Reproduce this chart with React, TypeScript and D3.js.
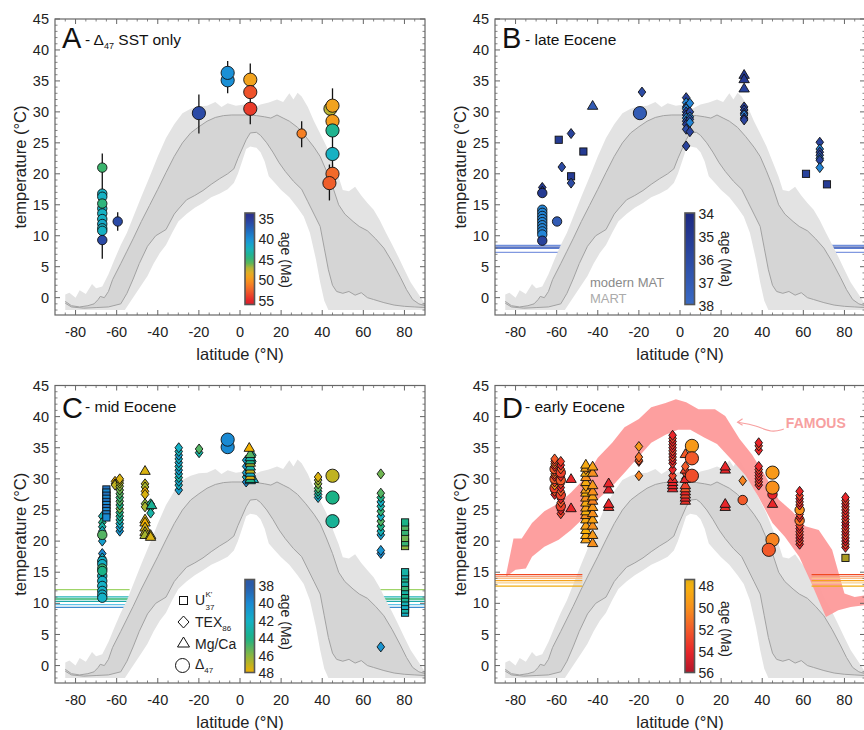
import React from 'react';
import * as d3 from 'd3';

type XY = [number, number];
type Pt = [number, number, number, string]; // latitude, temperature, age (Ma), marker
type HL = [number, string];

const FONT = "'Liberation Sans', Arial, Helvetica, sans-serif";

const latTicks = [-80, -60, -40, -20, 0, 20, 40, 60, 80];
const tempTicks = [0, 5, 10, 15, 20, 25, 30, 35, 40, 45];

// modern zonal temperature (gray band)
const modernMAT: XY[] = [
  [-85, -0.6], [-82, -1.3], [-78, -1.5], [-74, -1.3], [-71, -1.0], [-69, -0.3], [-68, 0.2], [-66, 0.0],
  [-64, 1.0], [-62, 2.9], [-58, 5.5], [-55, 7.5], [-52, 9.5], [-48, 12.3], [-44, 14.9], [-40, 17.5],
  [-36, 20.2], [-32, 22.8], [-28, 25.0], [-24, 26.6], [-20, 27.6], [-16, 28.5], [-12, 29.1], [-8, 29.4],
  [-4, 29.5], [0, 29.5], [4, 29.5], [8, 29.4], [12, 29.2], [15, 29.0], [18, 29.5], [21, 29.0], [24, 28.5],
  [28, 27.5], [32, 26.0], [36, 24.3], [39, 22.8], [42, 20.5], [45, 18.0], [48, 15.0], [51, 13.5], [55, 12.3],
  [58, 11.5], [62, 10.8], [66, 9.5], [70, 8.0], [74, 5.8], [78, 3.3], [81, 1.3], [84, -0.3], [87, -1.0], [90, -1.3],
];
const modernMART: XY[] = [
  [-85, -0.9], [-82, -1.5], [-76, -1.7], [-70, -1.6], [-64, -1.5], [-58, -1.0], [-55, 0.7], [-52, 3.0],
  [-49, 5.5], [-45, 8.3], [-41, 10.0], [-36, 11.0], [-32, 13.5], [-30, 14.3], [-26, 15.8], [-22, 16.5],
  [-18, 17.3], [-14, 18.3], [-10, 19.2], [-6, 20.0], [-3, 20.8], [-1, 22.5], [1, 24.0], [3, 25.5], [5, 26.6],
  [8, 26.7], [10, 26.2], [13, 25.0], [16, 23.5], [19, 21.8], [22, 20.4], [26, 18.8], [30, 17.5], [33, 15.5],
  [36, 13.5], [39, 11.5], [41, 8.0], [43, 4.5], [45, 2.0], [47, 1.0], [50, 0.7], [53, 1.0], [56, 0.4],
  [59, 0.8], [62, 0.0], [65, -0.3], [70, -0.8], [75, -1.2], [80, -1.4], [85, -1.5], [90, -1.6],
];
const envUpper: XY[] = [
  [-85, 0.5], [-83, 0.8], [-80, 0.0], [-78, 1.2], [-75, 0.6], [-72, 2.2], [-70, 1.5], [-67, 1.8], [-64, 3.8],
  [-61, 6.2], [-58, 8.5], [-55, 10.5], [-52, 13.0], [-48, 16.3], [-44, 19.5], [-40, 22.8], [-36, 25.8],
  [-32, 28.0], [-28, 29.8], [-24, 30.5], [-20, 30.9], [-16, 31.0], [-12, 31.6], [-9, 30.8], [-6, 31.4],
  [-2, 31.0], [2, 31.2], [6, 30.5], [10, 31.2], [14, 31.5], [18, 32.0], [21, 31.6], [24, 33.0], [26, 32.0],
  [28, 33.1], [30, 32.5], [33, 30.8], [36, 28.5], [39, 26.5], [42, 24.5], [45, 22.0], [48, 19.5], [50, 17.4],
  [53, 17.2], [56, 17.9], [59, 16.5], [62, 15.3], [65, 14.2], [68, 12.5], [71, 10.5], [74, 8.6], [77, 6.6],
  [80, 4.5], [83, 2.5], [86, 1.0], [88, 0.0], [90, -1.0],
];
const envLower: XY[] = [
  [-85, -2.0], [-56, -2.0], [-54, -1.0], [-51, 0.5], [-48, 2.0], [-45, 3.5], [-42, 5.5], [-39, 7.2],
  [-36, 8.5], [-33, 10.5], [-30, 12.3], [-26, 13.5], [-22, 14.5], [-18, 15.3], [-14, 16.2], [-10, 16.8],
  [-6, 17.5], [-3, 18.5], [-1, 20.0], [1, 22.0], [3, 24.0], [5, 24.4], [8, 24.2], [10, 23.5], [12, 22.0],
  [14, 19.6], [17, 18.5], [20, 17.4], [24, 16.2], [28, 14.5], [31, 13.1], [34, 10.5], [37, 6.1], [39, 2.5],
  [41, -0.5], [43, -2.0], [90, -2.0],
];

// FAMOUS model band (panel D)
const famousUpper: XY[] = [
  [-84.5, 14.8], [-81, 20.4], [-77, 20.4], [-72, 22.9], [-66, 24.8], [-59, 26.1], [-53, 27.8], [-46, 30.2],
  [-40, 33.4], [-33, 35.8], [-27, 38.3], [-20, 39.6], [-14, 41.5], [-7, 42.2], [-2, 42.8], [3, 42.3],
  [9, 41.2], [17, 41.2], [22, 40.1], [29, 36.4], [35, 33.9], [41.5, 30.5], [48, 26.7], [54.5, 24.8],
  [61, 22.4], [67.5, 21.8], [74, 18.6], [80, 11.6], [85, 11.0], [90, 11.3],
];
const famousLower: XY[] = [
  [-84.5, 14.3], [-80, 15.4], [-75, 15.6], [-72, 17.5], [-66, 19.1], [-59, 20.2], [-53, 21.8], [-46, 24.0],
  [-40, 26.7], [-33, 28.8], [-27, 31.0], [-20, 33.6], [-14, 35.8], [-7, 37.1], [-1, 37.9], [5, 37.9],
  [12, 36.6], [18, 35.6], [25, 33.1], [32, 30.5], [38, 27.2], [45, 22.9], [51, 20.7], [58, 17.5],
  [64, 13.2], [71, 7.8], [77, 8.9], [83, 9.4], [90, 9.7],
];
const famousArrow: XY[] = [[50.5, 38.0], [44.5, 37.4], [37, 38.6], [28, 39.1]];

// Panel A: clumped isotope SSTs
const aPoints: Pt[] = [
  [-67, 21.0, 45, 'c'], [-67, 16.8, 42, 'c'], [-67, 16.3, 42, 'c'], [-67, 14.4, 42, 'c'], [-67, 13.6, 42, 'c'],
  [-67, 12.7, 42, 'c'], [-67, 11.9, 41.5, 'c'], [-67, 11.2, 42, 'c'], [-67, 10.8, 42, 'c'], [-67, 15.2, 44.5, 'c'],
  [-67, 9.3, 36, 'c'], [-59.5, 12.3, 36, 'c'], [-20, 29.8, 36, 'C'], [-6, 35.1, 40, 'C'], [-6, 36.3, 40, 'C'],
  [5, 35.2, 49, 'C'], [5, 33.2, 53, 'C'], [5, 30.5, 54, 'C'], [30, 26.5, 51, 'c'],
  [44, 30.5, 47, 'C'], [45, 31.0, 49, 'C'], [45, 28.5, 49.5, 'C'], [45, 27.0, 43.8, 'C'], [45, 23.2, 42, 'C'],
  [45, 20.0, 52, 'C'], [43.5, 18.5, 52.5, 'C'],
];
const aErrors: XY[][] = [
  [[-67, 6.3], [-67, 23.3]], [[-59.5, 10.8], [-59.5, 13.8]], [[-20, 26.5], [-20, 32.8]],
  [[-6, 33.0], [-6, 38.2]], [[5, 28.0], [5, 37.8]], [[30, 24.3], [30, 28.5]],
  [[43.5, 15.7], [43.5, 21.5]], [[45, 17.8], [45, 33.8]],
];

// Panel B: late Eocene
const bPoints: Pt[] = [
  [-67, 17.8, 35, 'd'], [-67, 17.2, 35, 'd'], [-67, 14.2, 39.5, 'c'], [-67, 13.7, 39.5, 'c'], [-67, 13.2, 39.5, 'c'],
  [-67, 12.7, 39.5, 'c'], [-67, 12.2, 39.5, 'c'], [-67, 11.7, 39.5, 'c'], [-67, 11.2, 39.5, 'c'], [-67, 10.7, 39.5, 'c'],
  [-67, 10.2, 39.5, 'c'], [-67, 16.9, 35, 'c'], [-67, 9.2, 35.5, 'c'], [-59.8, 12.3, 37, 'c'],
  [-57.5, 21.1, 36, 'd'], [-59, 25.5, 35, 's'], [-53, 26.5, 35.5, 'd'], [-53, 19.6, 35, 's'], [-53, 18.5, 36, 'd'],
  [-47, 23.6, 35, 's'], [-42.5, 31.0, 37, 't'], [-19.5, 29.8, 37, 'C'], [-18.5, 33.2, 36, 'd'],
  [3, 32.3, 35.5, 'd'], [3, 31.5, 39.5, 'd'], [3, 30.8, 36, 'd'], [3, 30.5, 39.5, 'd'], [3, 30.0, 35.5, 'd'],
  [3, 29.5, 36, 'd'], [3, 29.0, 39.5, 'd'], [3, 28.5, 36, 'd'], [3, 28.0, 35, 'd'], [3, 27.2, 36, 'd'], [3, 24.5, 35.5, 'd'],
  [4.8, 31.4, 39.5, 'd'], [4.8, 30.0, 36, 'd'], [4.8, 29.2, 39.5, 'd'], [4.8, 28.8, 36, 'd'], [4.8, 28.3, 39.5, 'd'],
  [4.8, 26.8, 35.5, 'd'],
  [31.2, 36.0, 35, 't'], [31.2, 35.3, 35, 't'], [31.2, 33.8, 35.5, 't'], [31.2, 30.8, 35, 'd'], [31.2, 30.3, 35.5, 'd'],
  [31.2, 29.8, 35, 'd'], [31.2, 29.5, 39, 'd'], [31.2, 29.0, 35, 'd'], [31.2, 28.7, 35.5, 'd'],
  [61.3, 20.0, 35.5, 's'],
  [68, 25.1, 35.5, 'd'], [68, 24.0, 39.5, 'd'], [68, 23.5, 35.5, 'd'], [68, 23.0, 36, 'd'], [68, 22.5, 39.5, 'd'],
  [68, 22.2, 35.5, 'd'], [68, 21.0, 39.5, 'd'], [71.5, 18.3, 35, 's'],
];
const bLines: HL[] = [[8.45, '#6f8fdc'], [8.15, '#2a48a8'], [7.95, '#5a7bd0'], [7.3, '#8199e0']];
const bLineSpans: XY[] = [[-90, -56.5], [73.5, 90]];

// Panel C: mid Eocene
const cPoints: Pt[] = [
  [-67, 24.0, 42.5, 'd'], [-67, 23.0, 44, 'd'], [-67, 22.3, 43, 'd'], [-67, 21.6, 42, 'd'], [-67, 20.0, 41, 'd'],
  [-67, 18.0, 40, 'd'], [-67, 17.3, 42, 'd'],
  [-67, 21.0, 45, 'c'], [-67, 16.8, 42, 'c'], [-67, 16.3, 42, 'c'], [-67, 14.4, 42, 'c'], [-67, 13.6, 42, 'c'],
  [-67, 12.8, 42, 'c'], [-67, 12.0, 42, 'c'], [-67, 11.4, 42, 'c'], [-67, 10.9, 42, 'c'], [-67, 15.6, 44.5, 'c'],
  [-67, 15.2, 44, 'c'],
  [-65, 28.3, 39, 's'], [-65, 27.8, 40, 's'], [-65, 27.3, 39, 's'], [-65, 26.8, 40, 's'], [-65, 26.3, 39, 's'],
  [-65, 25.8, 40, 's'], [-65, 25.3, 39, 's'], [-65, 24.8, 40, 's'], [-65, 24.3, 39.5, 's'], [-65, 23.8, 40, 's'],
  [-60.8, 29.6, 48, 'd'], [-60.8, 29.2, 47.5, 'd'], [-60.8, 29.0, 47, 'd'],
  [-58.5, 21.6, 40.5, 'd'], [-58.5, 22.2, 41, 'd'], [-58.5, 22.8, 42, 'd'], [-58.5, 23.4, 43, 'd'], [-58.5, 24.0, 43.5, 'd'],
  [-58.5, 24.6, 44, 'd'], [-58.5, 25.2, 45.5, 'd'], [-58.5, 25.8, 44, 'd'], [-58.5, 26.4, 45, 'd'], [-58.5, 27.0, 44.5, 'd'],
  [-58.5, 27.6, 45, 'd'], [-58.5, 28.2, 45.5, 'd'], [-58.5, 28.8, 46, 'd'], [-58.5, 29.3, 46.5, 'd'], [-58.5, 29.7, 47, 'd'],
  [-58.5, 30.0, 47.5, 'd'],
  [-46.2, 31.3, 47.5, 't'], [-46.2, 29.2, 47, 'd'], [-46.2, 28.7, 46.5, 'd'], [-46.2, 28.0, 48, 'd'], [-46.2, 27.5, 47.5, 'd'],
  [-46.2, 26.0, 46, 'd'], [-46.2, 25.5, 46.5, 'd'], [-46.2, 23.5, 47.5, 't'], [-46.2, 23.0, 48, 't'], [-46.2, 22.2, 47.5, 't'],
  [-46.2, 21.5, 47, 't'], [-46.2, 21.0, 46.5, 't'],
  [-43.5, 26.0, 44, 'd'], [-43.5, 25.3, 44.5, 'd'], [-43.5, 24.5, 43, 'd'], [-43, 25.8, 43.5, 't'],
  [-43.5, 21.0, 47, 't'], [-43.5, 20.7, 47.5, 't'],
  [-29.8, 28.2, 41, 'd'], [-29.8, 29.0, 42, 'd'], [-29.8, 29.6, 41.5, 'd'], [-29.8, 30.2, 43, 'd'], [-29.8, 30.8, 42, 'd'],
  [-29.8, 31.4, 41, 'd'], [-29.8, 32.0, 42.5, 'd'], [-29.8, 32.6, 41.5, 'd'], [-29.8, 33.2, 42, 'd'], [-29.8, 33.8, 41, 'd'],
  [-29.8, 34.4, 42.5, 'd'], [-29.8, 35.0, 42, 'd'],
  [-19.9, 34.2, 43, 'd'], [-19.9, 34.8, 45, 'd'],
  [-6, 35.1, 40, 'C'], [-6, 36.3, 40, 'C'],
  [3, 29.5, 40, 'd'], [3, 30.3, 42, 'd'], [3, 31.0, 41, 'd'], [3, 32.0, 40.5, 'd'], [3, 33.0, 41, 'd'],
  [6, 33.8, 43, 'd'], [6, 32.8, 42, 'd'],
  [6.5, 30.0, 42, 't'], [5, 29.8, 42, 't'], [5, 30.0, 44, 't'], [5, 30.5, 47.5, 't'], [5, 31.0, 42, 't'], [5, 31.5, 47, 't'],
  [5, 32.0, 43, 't'], [5, 32.6, 46.5, 't'], [5, 33.0, 44, 't'], [5, 33.5, 43, 't'], [5, 34.0, 45, 't'], [4.5, 35.0, 48, 't'],
  [38, 27.0, 41.5, 'd'], [38, 27.5, 43, 'd'], [38, 28.0, 44, 'd'], [38, 28.5, 45, 'd'], [38, 29.2, 46, 'd'],
  [38, 29.8, 46.5, 'd'], [38, 30.3, 47.5, 'd'],
  [45, 30.5, 47, 'C'], [45, 27.0, 44, 'C'], [45, 23.2, 43.5, 'C'],
  [68.5, 3.0, 40.5, 'd'], [68.5, 18.0, 40, 'd'], [68.5, 18.5, 40.5, 'd'], [68.5, 21.0, 41, 'd'], [68.5, 21.6, 42.5, 'd'],
  [68.5, 22.4, 44, 'd'], [68.5, 23.2, 45, 'd'], [68.5, 24.0, 42, 'd'], [68.5, 24.8, 44.5, 'd'], [68.5, 25.6, 43, 'd'],
  [68.5, 26.3, 42, 'd'], [68.5, 27.0, 44, 'd'], [68.5, 27.7, 45, 'd'], [68.5, 30.8, 45.5, 'd'],
  [80.3, 8.5, 42, 's'], [80.3, 9.0, 43, 's'], [80.3, 9.6, 42, 's'], [80.3, 10.2, 42.5, 's'], [80.3, 10.8, 43.5, 's'],
  [80.3, 11.4, 44, 's'], [80.3, 12.0, 43, 's'], [80.3, 12.6, 44.5, 's'], [80.3, 13.3, 43, 's'], [80.3, 14.0, 44, 's'],
  [80.3, 14.5, 42.5, 's'], [80.3, 15.0, 43, 's'],
  [80.3, 19.2, 46, 's'], [80.3, 19.8, 44.5, 's'], [80.3, 20.5, 45.5, 's'], [80.3, 21.5, 44.5, 's'], [80.3, 22.3, 45, 's'],
  [80.3, 23.0, 44, 's'],
];
const cLines: HL[] = [[12.2, '#9fd468'], [11.05, '#22b3b8'], [10.7, '#2fb46e'], [10.3, '#1ca8a8'], [9.8, '#62c3e8'], [9.35, '#3d8ccf']];
const cLineSpans: XY[] = [[-90, -53.7], [68, 90]];

// Panel D: early Eocene
const dPoints: Pt[] = [
  [-61, 27.5, 54, 'd'], [-61, 28.0, 52, 'd'], [-61, 28.5, 53, 'c'], [-61, 29.0, 50, 'd'], [-61, 29.5, 53, 'd'],
  [-61, 30.0, 52, 'c'], [-61, 30.4, 54, 'd'], [-61, 30.8, 51, 'd'], [-61, 31.2, 53, 'd'], [-61, 31.6, 52, 'c'],
  [-61, 32.0, 54, 'd'], [-61, 32.4, 51, 'd'], [-61, 32.8, 53, 'd'], [-61, 33.2, 52, 'd'],
  [-58, 24.4, 53, 'd'], [-58, 25.0, 54, 'd'], [-58, 25.6, 53, 'c'], [-58, 26.2, 52, 'd'], [-58, 26.8, 54, 'd'],
  [-58, 27.4, 53, 'c'], [-58, 28.0, 52, 'd'], [-58, 28.6, 54, 'd'], [-58, 29.2, 53, 'd'], [-58, 29.8, 52, 'c'],
  [-58, 30.4, 54, 'd'], [-58, 31.0, 53, 'c'], [-58, 31.6, 52, 'd'], [-58, 32.2, 54, 'd'], [-58, 32.8, 53, 'd'],
  [-53, 30.0, 54, 't'], [-53, 25.3, 54, 't'],
  [-45.8, 20.3, 49, 't'], [-45.8, 21.0, 48.5, 't'], [-45.8, 21.8, 48, 't'], [-45.8, 22.5, 49, 't'], [-45.8, 23.5, 48.5, 't'],
  [-45.8, 24.2, 50, 't'], [-45.8, 24.8, 48, 't'], [-45.8, 25.4, 49, 't'], [-45.8, 26.2, 48.5, 't'], [-45.8, 27.0, 50, 't'],
  [-45.8, 27.8, 48, 't'], [-45.8, 28.3, 49, 't'], [-45.8, 28.8, 49, 'd'], [-45.8, 29.5, 48.5, 't'], [-45.8, 30.3, 50, 't'],
  [-45.8, 31.0, 48, 't'], [-45.8, 31.5, 50, 'd'], [-45.8, 31.8, 49, 't'], [-45.8, 32.3, 48.5, 't'],
  [-42.5, 19.7, 50, 't'], [-42.5, 21.0, 49.5, 't'], [-42.5, 22.5, 50, 't'], [-42.5, 23.5, 49, 't'], [-42.5, 24.5, 50, 't'],
  [-42.5, 25.5, 49.5, 't'], [-42.5, 26.5, 50.5, 't'], [-42.5, 27.2, 49, 't'], [-42.5, 28.0, 50, 't'], [-42.5, 29.0, 49.5, 't'],
  [-42.5, 31.0, 50, 't'], [-42.5, 32.0, 49, 't'],
  [-34.7, 25.5, 53.5, 't'], [-34.7, 26.0, 54, 't'], [-34.7, 28.3, 54.5, 't'], [-34.7, 29.3, 54, 't'],
  [-20, 30.5, 50.5, 'd'], [-20, 32.8, 53, 'd'], [-20, 33.0, 52, 'd'], [-20, 33.5, 51, 'd'], [-20, 35.2, 49.5, 'd'],
  [-3.6, 28.5, 54, 't'], [-3.6, 29.0, 54, 't'], [-3.6, 29.5, 54, 't'], [-3.6, 30.0, 54, 't'],
  [-3.6, 30.5, 53, 'd'], [-3.6, 31.5, 54, 'd'], [-3.6, 32.5, 53.5, 'd'], [-3.6, 33.0, 54, 'd'], [-3.6, 33.5, 53, 'd'],
  [-3.6, 34.0, 54.5, 'd'], [-3.6, 34.5, 53, 'd'], [-3.6, 35.0, 54, 'd'], [-3.6, 35.5, 53.5, 'd'], [-3.6, 36.0, 54, 'd'],
  [-3.6, 36.5, 53, 'd'], [-3.6, 37.0, 54, 'd'],
  [2.6, 26.5, 53.5, 't'], [2.6, 27.0, 54, 't'], [2.6, 27.5, 53, 't'], [2.6, 28.0, 54, 't'], [2.6, 28.5, 52, 't'],
  [2.6, 29.0, 53, 't'], [2.6, 30.0, 51, 'd'], [2.6, 30.0, 54, 't'], [2.6, 31.0, 53, 'd'], [2.6, 31.5, 53, 't'],
  [2.6, 32.0, 52, 'd'], [2.6, 34.0, 52, 't'],
  [5.8, 35.3, 49.5, 'C'], [5.8, 33.3, 52, 'C'], [5.8, 30.5, 52.5, 'C'],
  [22, 25.5, 53.5, 't'], [22, 26.0, 54, 't'], [22, 31.5, 54, 't'], [22, 32.0, 54, 't'],
  [30.5, 29.7, 50.5, 'd'], [30.5, 26.6, 52, 'c'],
  [38.3, 29.0, 54, 'd'], [38.3, 29.5, 53, 'd'], [38.3, 30.0, 54, 'd'], [38.3, 30.5, 53.5, 'd'], [38.3, 31.0, 54, 'd'],
  [38.3, 31.5, 53, 'd'], [38.3, 32.0, 54, 'd'], [38.3, 34.6, 54, 'd'], [38.3, 35.3, 53, 'd'], [38.3, 35.8, 54, 'd'],
  [45, 26.0, 54, 't'], [45, 27.5, 54, 'c'], [45, 31.0, 49.5, 'C'], [45, 28.6, 50, 'C'], [45, 20.2, 50.5, 'C'],
  [43.2, 18.6, 52, 'C'],
  [58.2, 19.5, 54, 'd'], [58.2, 20.0, 53, 'd'], [58.2, 20.5, 55, 'd'], [58.2, 21.0, 54, 'd'], [58.2, 21.5, 53, 'd'],
  [58.2, 22.0, 54.5, 'd'], [58.2, 22.5, 53, 'd'], [58.2, 23.3, 51, 'c'], [58.2, 23.8, 54, 'd'], [58.2, 24.3, 53, 'd'],
  [58.2, 25.0, 50, 'c'], [58.2, 25.8, 54, 'd'], [58.2, 26.3, 53, 'd'], [58.2, 26.8, 54.5, 'd'], [58.2, 27.3, 53, 'd'],
  [58.2, 28.0, 54, 'd'],
  [80.5, 19.0, 54, 'd'], [80.5, 19.5, 53, 'd'], [80.5, 20.0, 55, 'd'], [80.5, 20.5, 54, 'd'], [80.5, 21.0, 53, 'd'],
  [80.5, 21.5, 54.5, 'd'], [80.5, 22.0, 53, 'd'], [80.5, 22.5, 54, 'd'], [80.5, 23.0, 55, 'd'], [80.5, 23.5, 53, 'd'],
  [80.5, 24.0, 54, 'd'], [80.5, 24.5, 53.5, 'd'], [80.5, 25.0, 54, 'd'], [80.5, 25.5, 53, 'd'], [80.5, 26.0, 54.5, 'd'],
  [80.5, 26.5, 53, 'd'], [80.5, 27.0, 54, 'd'], [80.5, 17.3, 46, 's'],
];
const dLines: HL[] = [[14.6, '#f04a22'], [14.3, '#f7a07a'], [14.0, '#fbc08a'], [13.65, '#f5a21c'], [13.3, '#fad08a'], [12.75, '#efac10']];
const dLineSpans: XY[] = [[-90, -47.5], [64, 90]];

// colour bars: tick labels
const aAges = [35, 40, 45, 50, 55];
const bAges = [34, 35, 36, 37, 38];
const cAges = [38, 40, 42, 44, 46, 48];
const dAges = [48, 50, 52, 54, 56];

const aColor = d3.scaleLinear<string>()
  .domain([34, 36, 38, 40, 42, 44, 45.5, 47, 48.5, 50, 52, 55, 56])
  .range(['#2b2f8c', '#2b4aa6', '#1f6dbf', '#1b90d6', '#17b1c3', '#22b48a', '#48b660', '#b8b434', '#f0ab1f', '#f7941d', '#f26a2a', '#e5232a', '#d81e2a'])
  .clamp(true);
const bColor = d3.scaleLinear<string>().domain([34, 38, 40]).range(['#1e2a82', '#3a6cc6', '#1d8ddb']).clamp(true);
const cColor = d3.scaleLinear<string>()
  .domain([38, 40, 42, 44, 46, 48])
  .range(['#2b5aa8', '#1a8ad3', '#14b1c6', '#1bb286', '#8cb63f', '#f4b000']).clamp(true);
const dColor = d3.scaleLinear<string>()
  .domain([46, 48, 50, 52, 54, 56])
  .range(['#a89a22', '#f6b20e', '#f7901d', '#f25a2a', '#e8262a', '#b0152a']).clamp(true);

interface Box { l: number; r: number; t: number; b: number; }

function Marker({ kind, cx, cy, fill }: { kind: string; cx: number; cy: number; fill: string }) {
  const common = { fill, stroke: '#111', strokeWidth: 0.9 };
  if (kind === 'c') return <circle cx={cx} cy={cy} r={4.7} {...common} />;
  if (kind === 'C') return <circle cx={cx} cy={cy} r={6.6} {...common} />;
  if (kind === 'd') return <path d={`M${cx},${cy - 5}L${cx + 3.8},${cy}L${cx},${cy + 5}L${cx - 3.8},${cy}Z`} {...common} />;
  if (kind === 's') return <rect x={cx - 3.6} y={cy - 3.6} width={7.2} height={7.2} {...common} />;
  return <path d={`M${cx},${cy - 5.2}L${cx + 5.2},${cy + 3.6}L${cx - 5.2},${cy + 3.6}Z`} {...common} />;
}

interface PanelProps {
  id: string;
  box: Box;
  letter: string;
  letterDy: number;
  title: React.ReactNode;
  points: Pt[];
  color: d3.ScaleLinear<string, string>;
  ages: number[];
  labelTop: number;
  labelBot: number;
  ageTitleY: number;
  errors?: XY[][];
  lines?: HL[];
  spans?: XY[];
  famous?: boolean;
  modernLabel?: boolean;
  legend?: boolean;
}

function Panel(p: PanelProps) {
  const { box } = p;
  const x = d3.scaleLinear().domain([-90, 90]).range([box.l, box.r]);
  const y = d3.scaleLinear().domain([-2.8, 45]).range([box.b, box.t]);
  const line = d3.line<XY>().x((d) => x(d[0])).y((d) => y(d[1]));
  const poly = (a: XY[], b: XY[]) => (line([...a, ...b.slice().reverse()]) || '') + 'Z';
  const clipId = `clip-${p.id}`;
  const gradId = `grad-${p.id}`;

  // colour bar
  const barX = box.l + 190;
  const barW = 9.5;
  const barTop = box.t + 194;
  const barBot = box.b - 10.5;
  const ageY = d3.scaleLinear().domain([p.ages[0], p.ages[p.ages.length - 1]]).range([box.t + p.labelTop, box.b - p.labelBot]);
  const stops = d3.range(0, 1.0001, 0.05).map((f) => {
    const yy = barTop + f * (barBot - barTop);
    return { off: f, col: p.color(ageY.invert(yy)) };
  });

  const minorT = d3.range(-2, 46, 1).filter((v) => v % 5 !== 0);
  const minorL = d3.range(-85, 90, 5).filter((v) => v % 20 !== 0);
  const tc = '#666';

  const hlines = (p.lines || []).flatMap((l, i) =>
    (p.spans || []).map((s, j) => (
      <line key={`hl${i}-${j}`} x1={x(s[0])} x2={x(s[1])} y1={y(l[0])} y2={y(l[0])} stroke={l[1]} strokeWidth={1.3} />
    ))
  );

  return (
    <g>
      <defs>
        <clipPath id={clipId}>
          <rect x={box.l} y={box.t} width={box.r - box.l} height={box.b - box.t} />
        </clipPath>
        <linearGradient id={gradId} x1="0" y1="0" x2="0" y2="1">
          {stops.map((s, i) => (
            <stop key={i} offset={s.off} stopColor={s.col} />
          ))}
        </linearGradient>
      </defs>
      <g clipPath={`url(#${clipId})`}>
        {!p.famous && hlines}
        <path d={poly(envUpper, envLower)} fill="#e3e3e3" />
        <path d={poly(modernMAT, modernMART)} fill="#d5d5d5" />
        <path d={line(modernMAT) || ''} fill="none" stroke="#a2a2a2" strokeWidth={1} />
        <path d={line(modernMART) || ''} fill="none" stroke="#a2a2a2" strokeWidth={1} />
        {p.famous && <path d={poly(famousUpper, famousLower)} fill="#fd9a9a" opacity={0.95} />}
        {p.famous && hlines}
        {(p.errors || []).map((e, i) => (
          <path key={`e${i}`} d={line(e) || ''} stroke="#111" strokeWidth={1.3} />
        ))}
        {p.points.map((d, i) => (
          <Marker key={`p${i}`} kind={d[3]} cx={x(d[0])} cy={y(d[1])} fill={p.color(d[2])} />
        ))}
      </g>

      {/* frame and ticks */}
      <rect x={box.l} y={box.t} width={box.r - box.l} height={box.b - box.t} fill="none" stroke={tc} strokeWidth={1.2} />
      {tempTicks.map((v) => (
        <g key={`yt${v}`}>
          <line x1={box.l} x2={box.l + 5} y1={y(v)} y2={y(v)} stroke={tc} />
          <line x1={box.r} x2={box.r - 5} y1={y(v)} y2={y(v)} stroke={tc} />
          <text x={box.l - 6} y={y(v)} dy="0.35em" textAnchor="end" fontSize={14.5} fill="#222">{v}</text>
        </g>
      ))}
      {minorT.map((v) => (
        <g key={`ym${v}`}>
          <line x1={box.l} x2={box.l + 2.5} y1={y(v)} y2={y(v)} stroke={tc} strokeWidth={0.8} />
          <line x1={box.r} x2={box.r - 2.5} y1={y(v)} y2={y(v)} stroke={tc} strokeWidth={0.8} />
        </g>
      ))}
      {latTicks.map((v) => (
        <g key={`xt${v}`}>
          <line x1={x(v)} x2={x(v)} y1={box.b} y2={box.b - 5} stroke={tc} />
          <line x1={x(v)} x2={x(v)} y1={box.t} y2={box.t + 5} stroke={tc} />
          <text x={x(v)} y={box.b + 22} textAnchor="middle" fontSize={14.5} fill="#222">{v}</text>
        </g>
      ))}
      {minorL.map((v) => (
        <g key={`xm${v}`}>
          <line x1={x(v)} x2={x(v)} y1={box.b} y2={box.b - 2.5} stroke={tc} strokeWidth={0.8} />
          <line x1={x(v)} x2={x(v)} y1={box.t} y2={box.t + 2.5} stroke={tc} strokeWidth={0.8} />
        </g>
      ))}
      <text x={(box.l + box.r) / 2} y={box.b + 45} textAnchor="middle" fontSize={16.5} fill="#222">latitude (°N)</text>
      <text transform={`translate(${box.l - 29},${(box.t + box.b) / 2}) rotate(-90)`} textAnchor="middle" fontSize={16.5} fill="#222">temperature (°C)</text>

      {/* title */}
      <text x={box.l + 7} y={box.t + p.letterDy} fontSize={29} fill="#111">{p.letter}</text>
      {p.title}

      {/* colour bar */}
      <rect x={barX} y={barTop} width={barW} height={barBot - barTop} fill={`url(#${gradId})`} stroke="#555" strokeWidth={1.6} />
      {p.ages.map((a) => (
        <text key={`ca${a}`} x={box.l + 203.5} y={ageY(a)} dy="0.35em" fontSize={14} fill="#222">{a}</text>
      ))}
      <text transform={`translate(${box.l + 226},${box.t + p.ageTitleY}) rotate(90)`} textAnchor="middle" fontSize={14} fill="#222">age (Ma)</text>

      {p.modernLabel && (
        <g>
          <text x={x(-43.8)} y={y(1.7)} fontSize={13} fill="#8a8a8a">modern MAT</text>
          <text x={x(-43.8)} y={y(-0.9)} fontSize={13} fill="#ababab">MART</text>
        </g>
      )}
      {p.famous && (
        <g>
          <text x={x(51.5)} y={y(38.2)} fontSize={14} fontWeight="bold" fill="#f7a0a0">FAMOUS</text>
          <path d={d3.line<XY>().x((d) => x(d[0])).y((d) => y(d[1])).curve(d3.curveBasis)(famousArrow) || ''} fill="none" stroke="#f7a0a0" strokeWidth={1.1} />
          <path d={`M${x(28) + 5},${y(39.1) - 3.5}L${x(28)},${y(39.1)}L${x(28) + 5},${y(39.1) + 3}`} fill="none" stroke="#f7a0a0" strokeWidth={1.1} />
        </g>
      )}
      {p.legend && (
        <g fill="#222" fontSize={14}>
          <rect x={box.l + 124.5} y={box.t + 211} width={8} height={8} fill="none" stroke="#111" strokeWidth={1} />
          <text x={box.l + 140} y={box.t + 219.5}>U</text>
          <text x={box.l + 150.5} y={box.t + 211.5} fontSize={8}>K'</text>
          <text x={box.l + 150.5} y={box.t + 224} fontSize={8}>37</text>
          <path d={`M${box.l + 128.5},${box.t + 230.5}L${box.l + 134},${box.t + 236.5}L${box.l + 128.5},${box.t + 242.5}L${box.l + 123},${box.t + 236.5}Z`} fill="none" stroke="#111" strokeWidth={1} />
          <text x={box.l + 140} y={box.t + 241}>TEX<tspan fontSize={8} dy={4}>86</tspan></text>
          <path d={`M${box.l + 128.5},${box.t + 251.5}L${box.l + 134.5},${box.t + 261.5}L${box.l + 122.5},${box.t + 261.5}Z`} fill="none" stroke="#111" strokeWidth={1} />
          <text x={box.l + 140} y={box.t + 263}>Mg/Ca</text>
          <circle cx={box.l + 127.5} cy={box.t + 280} r={7} fill="none" stroke="#111" strokeWidth={1} />
          <text x={box.l + 140} y={box.t + 283}>Δ<tspan fontSize={8} dy={4}>47</tspan></text>
        </g>
      )}
    </g>
  );
}

const boxA: Box = { l: 55, r: 425, t: 19, b: 315 };
const boxB: Box = { l: 495, r: 865, t: 19, b: 315 };
const boxC: Box = { l: 55, r: 425, t: 385.5, b: 683 };
const boxD: Box = { l: 495, r: 865, t: 385.5, b: 683 };

function Title({ box, children }: { box: Box; children: React.ReactNode }) {
  return (
    <text x={box.l + 30} y={box.t + 26} fontSize={15.5} fill="#111">{children}</text>
  );
}

export default function App() {
  return (
    <svg width={864} height={730} style={{ position: 'absolute', left: 0, top: 0, background: '#fff' }} fontFamily={FONT}>
      <rect width={864} height={730} fill="#fff" />
      <Panel id="a" box={boxA} letter="A" letterDy={28.5}
        title={<Title box={boxA}>- Δ<tspan fontSize={9} dy={4}>47</tspan><tspan dy={-4}> SST only</tspan></Title>}
        points={aPoints} errors={aErrors} color={aColor} ages={aAges} labelTop={200} labelBot={14} ageTitleY={241} />
      <Panel id="b" box={boxB} letter="B" letterDy={28.5}
        title={<Title box={boxB}>- late Eocene</Title>}
        points={bPoints} lines={bLines} spans={bLineSpans} color={bColor} ages={bAges} labelTop={195.5} labelBot={9} ageTitleY={240} modernLabel />
      <Panel id="c" box={boxC} letter="C" letterDy={32}
        title={<Title box={boxC}>- mid Eocene</Title>}
        points={cPoints} lines={cLines} spans={cLineSpans} color={cColor} ages={cAges} labelTop={200.5} labelBot={9.7} ageTitleY={236.5} legend />
      <Panel id="d" box={boxD} letter="D" letterDy={32}
        title={<Title box={boxD}>- early Eocene</Title>}
        points={dPoints} lines={dLines} spans={dLineSpans} color={dColor} ages={dAges} labelTop={201} labelBot={9.7} ageTitleY={243.5} famous />
    </svg>
  );
}
